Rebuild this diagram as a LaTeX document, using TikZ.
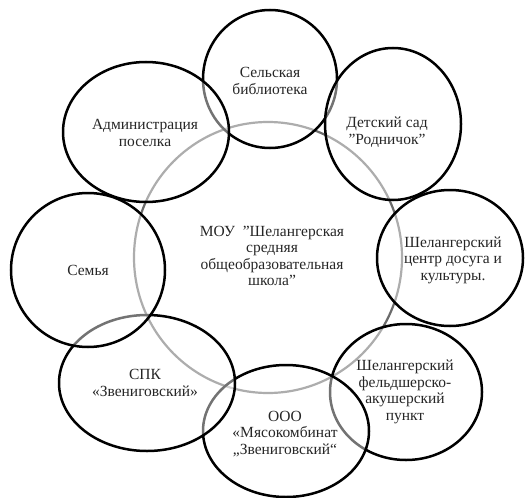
\documentclass[tikz,border=0pt]{standalone}
\usepackage{fontspec}
\setmainfont{Liberation Serif}
\newcommand{\dq}{\symbol{"22}}
\begin{document}
\begin{tikzpicture}[x=1pt,y=-1pt,
  blob/.style={draw=black,line width=2.5pt,fill=white,fill opacity=0.45,text opacity=1},
  lbl/.style={align=center,font=\fontsize{15.5}{16.5}\selectfont,text=black!85}]
\useasboundingbox (0,0) rectangle (529,497);
\draw[draw=black!58,line width=2.2pt] (268,257.5) circle [x radius=134, y radius=135.5];
\path[blob] (270,79) ellipse [x radius=67, y radius=69];
\path[blob] (146,132) ellipse [x radius=83, y radius=70];
\path[blob] (393,124) ellipse [x radius=68, y radius=76];
\path[blob] (450,258) ellipse [x radius=73, y radius=68];
\path[blob] (406,392) ellipse [x radius=76, y radius=68];
\path[blob] (286,431) ellipse [x radius=83, y radius=66];
\path[blob] (147,383) ellipse [x radius=88, y radius=68];
\path[blob] (88,270) ellipse [x radius=77, y radius=77];
\node[lbl] (mou) at (272,256) {МОУ \ \dq Шелангерская\\средняя\\общеобразовательная\\школа\dq};
\node[lbl] (lib) at (270,81) {Сельская\\библиотека};
\node[lbl] (adm) at (145,133) {Администрация\\поселка};
\node[lbl] (sad) at (387,132) {Детский сад\\\dq Родничок\dq};
\node[lbl] (cdk) at (453,260) {Шелангерский\\центр досуга и\\культуры.};
\node[lbl] (fap) at (405,392) {Шелангерский\\фельдшерско-\\акушерский\\пункт};
\node[lbl] (ooo) at (285,434) {ООО\\«Мясокомбинат\\„Звениговский“};
\node[lbl] (spk) at (145,383) {СПК\\«Звениговский»};
\node[lbl] (sem) at (88,270) {Семья};
\end{tikzpicture}
\end{document}
